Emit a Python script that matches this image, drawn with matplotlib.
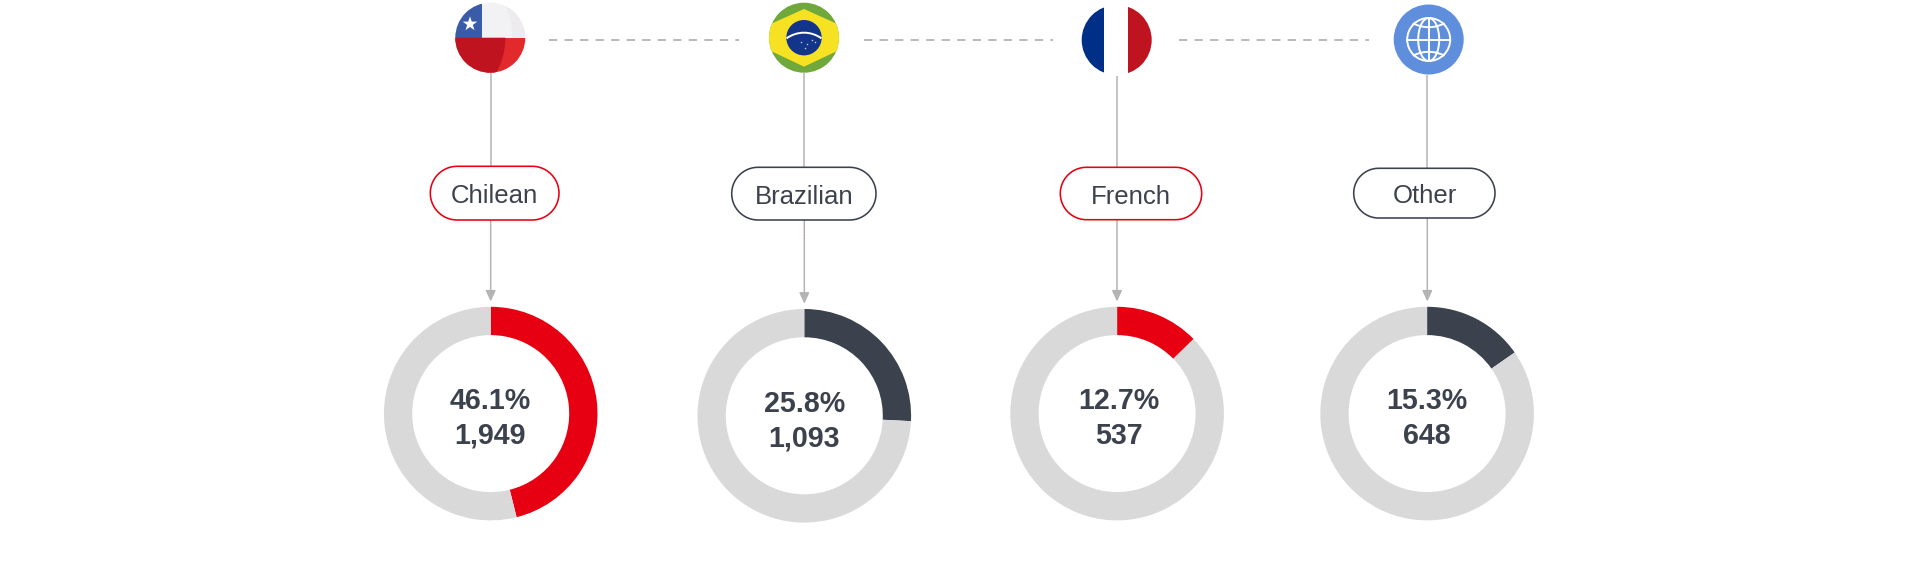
import numpy as np
import matplotlib
matplotlib.use("Agg")
import matplotlib.pyplot as plt
from matplotlib.patches import Circle, Rectangle, Polygon, FancyArrowPatch, Ellipse, Arc

plt.rcParams['font.family'] = ['Liberation Sans', 'DejaVu Sans']

# ---- data ----
nationalities = ["Chilean", "Brazilian", "French", "Other"]
share_pct = [46.1, 25.8, 12.7, 15.3]
counts = [1949, 1093, 537, 648]

# ---- style / layout (pixels) ----
RED, DARK, GREY, LINE, TXT = "#E60012", "#3B424D", "#D9D9D9", "#B4B4B4", "#3C424D"
accent = [RED, DARK, RED, DARK]
donut_cx = [490.7, 804.3, 1117.1, 1427.1]
donut_cy = [413.6, 415.8, 413.6, 413.6]
text_dx = [-0.5, 0, 2, 0]
R = 106.8
ring = 0.265
icon_cx = [490.3, 804.0, 1116.7, 1428.7]
icon_cy = [37.7, 37.7, 40.0, 39.5]
ICON_R = 35
pill_box = [(430.3, 559.0, 166.3, 220.0), (731.7, 876.0, 167.3, 220.0),
            (1060.3, 1201.7, 167.3, 219.7), (1353.7, 1495.0, 168.3, 218.0)]
label_x = [494.3, 804.3, 1130.7, 1425.0]
line_x = [490.7, 804.3, 1117.0, 1427.3]
line_top = [72.5, 72.5, 75.5, 74.5]
tip_y = [301.5, 303.7, 301.5, 301.5]
dash_spans = [(549, 739), (864, 1053), (1179, 1369)]
W, H = 1920, 576

fig = plt.figure(figsize=(W / 100, H / 100), dpi=100, facecolor="white")
ax = fig.add_axes([0, 0, 1, 1], zorder=3)
ax.set_xlim(0, W)
ax.set_ylim(H, 0)
ax.axis("off")
ax.patch.set_alpha(0)

# donuts
for i, pct in enumerate(share_pct):
    cx, cy = donut_cx[i], donut_cy[i]
    a = fig.add_axes([(cx - R) / W, (H - cy - R) / H, 2 * R / W, 2 * R / H], zorder=2)
    a.pie([pct, 100 - pct], colors=[accent[i], GREY], startangle=90, counterclock=False,
          radius=1, wedgeprops=dict(width=ring, linewidth=0))
    a.set_xlim(-1, 1)
    a.set_ylim(-1, 1)
    ax.text(cx + text_dx[i], cy - 15.2, f"{pct:.1f}%", ha="center", va="center_baseline", fontsize=20.6,
            fontweight="bold", color=TXT)
    ax.text(cx + text_dx[i], cy + 19.4, f"{counts[i]:,}", ha="center", va="center_baseline", fontsize=20.6,
            fontweight="bold", color=TXT)


def pill_outline(x0, x1, y0, y1):
    r = (y1 - y0) / 2
    ym = (y0 + y1) / 2
    t = np.radians(np.linspace(-90, 90, 40))
    right = np.c_[x1 - r + r * np.cos(t), ym + r * np.sin(t)]
    left = np.c_[x0 + r - r * np.cos(t[::-1]), ym + r * np.sin(t[::-1])]
    return np.vstack([right, left])


# connectors
for i in range(4):
    x = line_x[i]
    x0, x1, y0, y1 = pill_box[i]
    ax.plot([x, x], [line_top[i], y0], color=LINE, lw=1.1, zorder=1, solid_capstyle="butt")
    ax.add_patch(FancyArrowPatch((x, y1), (x, tip_y[i]), arrowstyle="-|>,head_length=0.65,head_width=0.3",
                                 mutation_scale=10, color=LINE, lw=1.1, shrinkA=0, shrinkB=0, zorder=1))
    ax.add_patch(Polygon(pill_outline(x0, x1, y0, y1), closed=True, fc="white", ec=accent[i], lw=1.15, zorder=2))
    ax.text(label_x[i], (y0 + y1) / 2 + 0.5, nationalities[i], ha="center", va="center_baseline",
            fontsize=18.5, color=TXT, zorder=3)
ax.plot([line_x[1]] * 2, [pill_box[1][3], 240], color="#D08A98", lw=0.7, dashes=(1, 2), zorder=1)

for x0, x1 in dash_spans:
    ax.plot([x0, x1], [40, 40], color=LINE, lw=1.3, dashes=(4.6, 4.0), zorder=1, dash_capstyle="butt")


def add(p, cx, cy, z=4):
    ax.add_patch(p)
    p.set_zorder(z)
    p.set_clip_path(Circle((cx, cy), ICON_R, transform=ax.transData))
    return p


# Chile
cx, cy = icon_cx[0], icon_cy[0]
add(Rectangle((cx - 40, cy - 40), 80, 40, fc="#F2F2F5", lw=0), cx, cy)
th = np.linspace(-np.radians(40), 0, 30)
arc_pts = np.c_[cx - 58 + 80 * np.cos(th), cy + 80 * np.sin(th)]
add(Polygon(np.vstack([arc_pts, [cx + 45, cy], [cx + 45, cy - 45]]), fc="#EDEBEE", lw=0), cx, cy, 4.1)
add(Rectangle((cx - 40, cy - 40), 31.4, 40, fc="#3A5CA8", lw=0), cx, cy, 4.2)
add(Rectangle((cx - 40, cy), 80, 40, fc="#E22A2C", lw=0), cx, cy, 4.2)
th = np.linspace(0, np.radians(40), 30)
arc_pts = np.c_[cx - 58 + 73 * np.cos(th), cy + 73 * np.sin(th)]
add(Polygon(np.vstack([[cx - 40, cy], arc_pts, [cx - 40, cy + 40]]), fc="#BF1420", lw=0), cx, cy, 4.3)
ang = np.radians(np.arange(0, 360, 36) - 90)
rad = np.where(np.arange(10) % 2 == 0, 7.6, 3.0)
add(Polygon(np.c_[cx - 20.3 + rad * np.cos(ang), cy - 13.7 + rad * np.sin(ang)], fc="white", lw=0), cx, cy, 5)

# Brazil
cx, cy = icon_cx[1], icon_cy[1]
add(Rectangle((cx - 40, cy - 40), 80, 80, fc="#70A83B", lw=0), cx, cy)
add(Polygon([(cx, cy - 28.7), (cx + 40, cy - 10.7), (cx + 40, cy + 10), (cx, cy + 29), (cx - 40, cy + 10), (cx - 40, cy - 10.7)],
            fc="#F7E123", lw=0), cx, cy, 5)
ax.add_patch(Circle((cx, cy), 17.7, fc="#12348A", lw=0, zorder=6))
ax.add_patch(Arc((cx, cy + 24.7), 59.4, 59.4, theta1=234, theta2=306, ec="white", lw=1.4, zorder=7))
ax.scatter([cx - 3, cx + 3, cx + 8, cx + 11, cx + 1], [cy + 4, cy + 6, cy + 2, cy + 4, cy + 10],
           s=1.2, c="#C8D0E8", lw=0, zorder=7)

# France
cx, cy = icon_cx[2], icon_cy[2]
add(Rectangle((cx - 40, cy - 40), 27.3, 80, fc="#002F87", lw=0), cx, cy)
add(Rectangle((cx + 11.7, cy - 40), 30, 80, fc="#BF1420", lw=0), cx, cy)

# Other: globe
cx, cy = icon_cx[3], icon_cy[3]
ax.add_patch(Circle((cx, cy), ICON_R, fc="#5F8FDC", lw=0, zorder=4))
gkw = dict(ec="white", fc="none", lw=1.4, zorder=5)
ax.add_patch(Circle((cx, cy), 21.5, **gkw))
ax.add_patch(Ellipse((cx, cy), 21, 43, **gkw))
ax.plot([cx, cx], [cy - 21.5, cy + 21.5], color="white", lw=1.4, zorder=5)
ax.plot([cx - 21.5, cx + 21.5], [cy, cy], color="white", lw=1.4, zorder=5)
for s in (-1, 1):
    t = np.linspace(-1, 1, 40)
    ax.plot(cx + 15 * t, cy + s * (12.3 + 3.5 * t ** 2), color="white", lw=1.4, zorder=5)

fig.savefig("out.png", dpi=100, facecolor="white")
